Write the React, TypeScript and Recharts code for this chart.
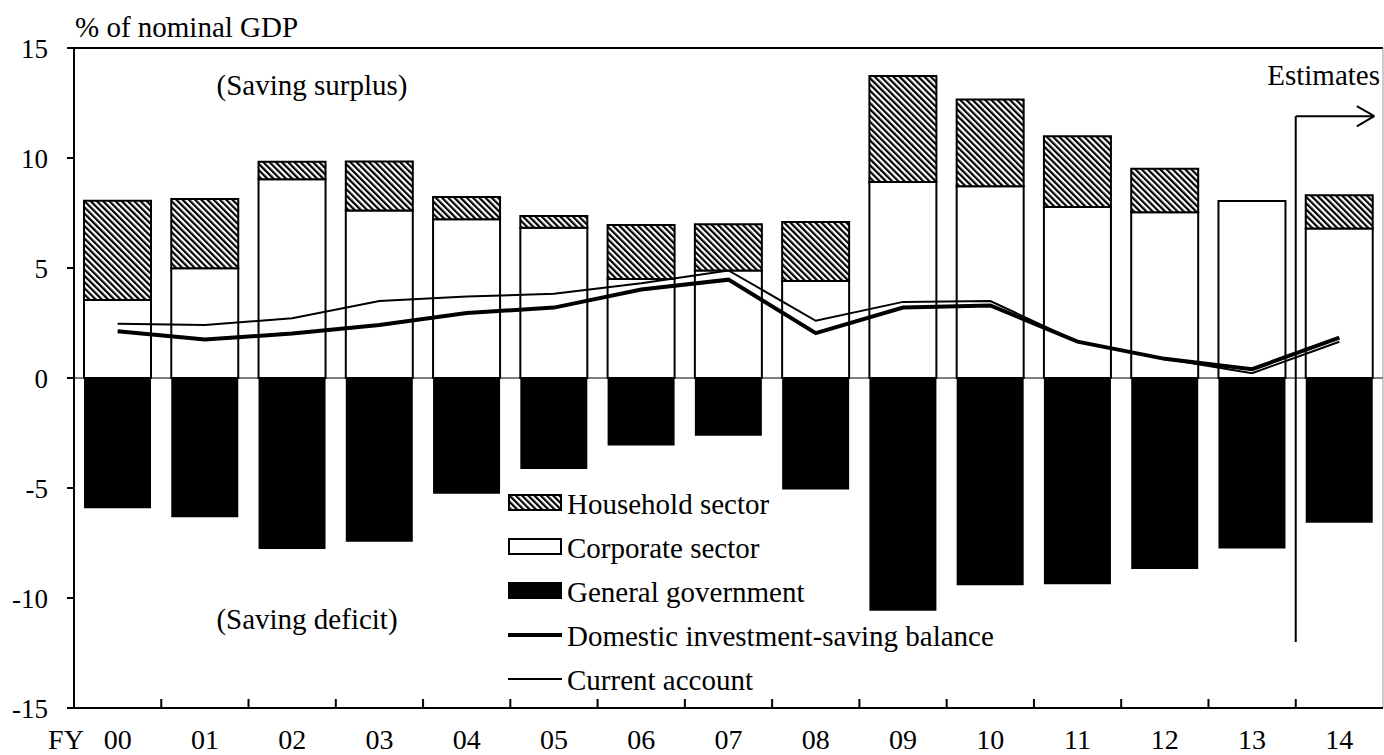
import React from 'react'
import { ComposedChart, Bar, Line, XAxis, YAxis, ReferenceLine } from 'recharts'

// fiscal years (FY2000 - FY2014), values in % of nominal GDP
const years = ['00', '01', '02', '03', '04', '05', '06', '07', '08', '09', '10', '11', '12', '13', '14']
const household = [4.51, 3.15, 0.8, 2.23, 1.01, 0.53, 2.45, 2.1, 2.68, 4.82, 3.94, 3.22, 1.98, 0, 1.51]
const corporate = [3.55, 4.99, 9.03, 7.61, 7.22, 6.83, 4.5, 4.89, 4.41, 8.91, 8.72, 7.77, 7.53, 8.04, 6.8]
const government = [-5.92, -6.33, -7.77, -7.44, -5.26, -4.14, -3.07, -2.62, -5.07, -10.58, -9.42, -9.38, -8.68, -7.75, -6.58]
const domesticBalance = [2.12, 1.75, 2.02, 2.41, 2.95, 3.2, 4.02, 4.47, 2.04, 3.2, 3.3, 1.65, 0.87, 0.4, 1.83]
const currentAccount = [2.47, 2.41, 2.72, 3.5, 3.7, 3.83, 4.31, 4.89, 2.6, 3.46, 3.5, 1.65, 0.87, 0.22, 1.65]
const yTicks = [-15, -10, -5, 0, 5, 10, 15]

// "Estimates" marker: starts between FY13 and FY14
const estimateX = 13.5
const estimateTop = 11.9
const estimateBottom = -12
const arrowTipX = 14.4

const W = 1384
const H = 755
const Y_AXIS_W = 74
const X_AXIS_H = 47
const TOP = 48
const RIGHT = 1
const plotW = W - Y_AXIS_W - RIGHT
const band = plotW / years.length
const axisY = H - X_AXIS_H
const FONT = "'Liberation Serif', 'Times New Roman', Times, 'Nimbus Roman', 'FreeSerif', 'Noto Serif', 'DejaVu Serif', serif"

const data = years.map((fy, i) => ({
  fy,
  pos: i,
  household: household[i],
  corporate: corporate[i],
  government: government[i],
  domestic: domesticBalance[i],
  current: currentAccount[i],
}))

function FyTick(props: any) {
  const { x, payload, index } = props
  const bx = x - band / 2
  return (
    <g>
      {index > 0 && <line x1={bx} x2={bx} y1={axisY} y2={axisY - 9} stroke="#000" strokeWidth={2} />}
      <text x={x} y={749} textAnchor="middle" fontSize={28} fill="#000">{payload.value}</text>
      {index === 0 && <text x={66} y={749} textAnchor="middle" fontSize={28} fill="#000">FY</text>}
    </g>
  )
}

const legendItems = [
  { label: 'Household sector', kind: 'hatch' },
  { label: 'Corporate sector', kind: 'white' },
  { label: 'General government', kind: 'black' },
  { label: 'Domestic investment-saving balance', kind: 'thick' },
  { label: 'Current account', kind: 'thin' },
]

function Overlay() {
  const base0 = 514
  const step = 44
  return (
    <svg width={W} height={H} style={{ position: 'absolute', left: 0, top: 0, pointerEvents: 'none' }}>
      <defs>
        <pattern id="hatchLegend" width="4.4" height="4.4" patternUnits="userSpaceOnUse" patternTransform="rotate(-45)">
          <rect width="4.4" height="4.4" fill="#fff" />
          <rect width="2.2" height="4.4" fill="#000" />
        </pattern>
      </defs>
      <g fill="#000" fontSize={29}>
        <text x={75} y={37}>% of nominal GDP</text>
        <text x={312} y={95} textAnchor="middle">(Saving surplus)</text>
        <text x={307} y={629} textAnchor="middle">(Saving deficit)</text>
        <text x={1380} y={85} textAnchor="end">Estimates</text>
        {legendItems.map((it, i) => {
          const b = base0 + i * step
          return (
            <g key={it.label}>
              {it.kind === 'hatch' && <rect x={509} y={b - 19} width={52} height={15} fill="url(#hatchLegend)" stroke="#000" strokeWidth={2} />}
              {it.kind === 'white' && <rect x={509} y={b - 19} width={52} height={15} fill="#fff" stroke="#000" strokeWidth={2} />}
              {it.kind === 'black' && <rect x={508} y={b - 20} width={54} height={17} fill="#000" />}
              {it.kind === 'thick' && <line x1={508} x2={562} y1={b - 11} y2={b - 11} stroke="#000" strokeWidth={4} />}
              {it.kind === 'thin' && <line x1={508} x2={562} y1={b - 11} y2={b - 11} stroke="#000" strokeWidth={2} />}
              <text x={567} y={b}>{it.label}</text>
            </g>
          )
        })}
      </g>
    </svg>
  )
}

export default function App() {
  return (
    <div style={{ position: 'relative', width: W, height: H, background: '#fff', fontFamily: FONT }}>
      <style>{'body{margin:0}'}</style>
      <ComposedChart
        width={W}
        height={H}
        data={data}
        stackOffset="sign"
        margin={{ top: TOP, right: RIGHT, bottom: 0, left: 0 }}
        barGap={0}
      >
        <defs>
          <pattern id="hatch" width="4.4" height="4.4" patternUnits="userSpaceOnUse" patternTransform="rotate(-45)">
            <rect width="4.4" height="4.4" fill="#fff" />
            <rect width="2.2" height="4.4" fill="#000" />
          </pattern>
        </defs>
        <XAxis
          dataKey="fy"
          height={X_AXIS_H}
          interval={0}
          tickLine={false}
          tickSize={0}
          axisLine={{ stroke: '#000', strokeWidth: 2 }}
          tick={<FyTick />}
        />
        <XAxis xAxisId="n" dataKey="pos" type="number" domain={[-0.5, 14.5]} hide allowDataOverflow />
        <YAxis
          domain={[-15, 15]}
          ticks={yTicks}
          interval={0}
          width={Y_AXIS_W}
          tickSize={7}
          tickMargin={19}
          allowDataOverflow
          axisLine={{ stroke: '#000', strokeWidth: 2 }}
          tickLine={{ stroke: '#000', strokeWidth: 2 }}
          tick={{ fill: '#000', fontSize: 27 }}
        />
        <ReferenceLine y={0} stroke="#000" strokeWidth={1} />
        <ReferenceLine y={15} stroke="#000" strokeWidth={2} />
        <ReferenceLine xAxisId="n" x={14.5} stroke="#999" strokeWidth={1} ifOverflow="visible" />
        <Bar dataKey="government" stackId="s" barSize={67} fill="#000" isAnimationActive={false} />
        <Bar dataKey="corporate" stackId="s" barSize={67} fill="#fff" stroke="#000" strokeWidth={2} isAnimationActive={false} />
        <Bar dataKey="household" stackId="s" barSize={67} fill="url(#hatch)" stroke="#000" strokeWidth={2} isAnimationActive={false} />
        <Line dataKey="domestic" type="linear" stroke="#000" strokeWidth={4} dot={false} isAnimationActive={false} />
        <Line dataKey="current" type="linear" stroke="#000" strokeWidth={2} dot={false} isAnimationActive={false} />
        <ReferenceLine xAxisId="n" ifOverflow="visible" segment={[{ x: estimateX, y: estimateBottom }, { x: estimateX, y: estimateTop }]} stroke="#000" strokeWidth={2} />
        <ReferenceLine xAxisId="n" ifOverflow="visible" segment={[{ x: estimateX, y: estimateTop }, { x: arrowTipX, y: estimateTop }]} stroke="#000" strokeWidth={2} />
        <ReferenceLine xAxisId="n" ifOverflow="visible" segment={[{ x: arrowTipX - 0.2, y: estimateTop + 0.46 }, { x: arrowTipX, y: estimateTop }]} stroke="#000" strokeWidth={2} />
        <ReferenceLine xAxisId="n" ifOverflow="visible" segment={[{ x: arrowTipX - 0.2, y: estimateTop - 0.46 }, { x: arrowTipX, y: estimateTop }]} stroke="#000" strokeWidth={2} />
      </ComposedChart>
      <Overlay />
    </div>
  )
}
